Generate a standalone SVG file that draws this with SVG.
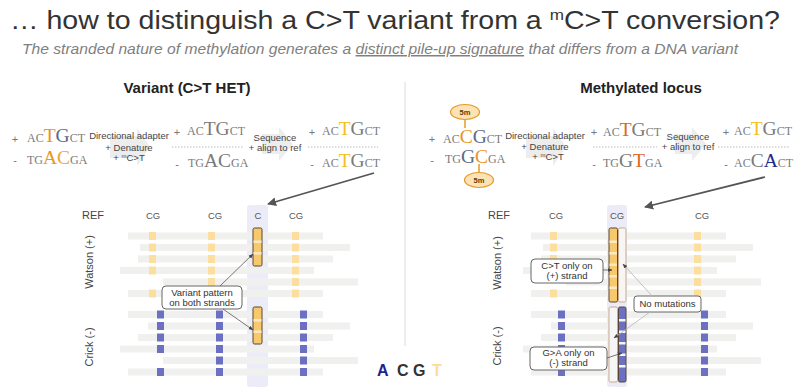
<svg xmlns="http://www.w3.org/2000/svg" width="800" height="392" viewBox="0 0 800 392">
<style>
text{font-family:"Liberation Sans",Arial,sans-serif}
.title{font-size:25px;fill:#333}
.sub{font-size:15px;font-style:italic;fill:#808080}
.h{font-size:15px;font-weight:bold;fill:#222;text-anchor:middle}
.seq{font-family:"Liberation Serif","Times New Roman",serif;fill:#7b7b7b}
.s{font-size:12px}
.b{font-size:19.5px}
.pm{font-size:11px;fill:#777;text-anchor:middle}
.step{font-size:9.5px;fill:#444;text-anchor:middle}
.lbl{font-size:11px;fill:#444}
.col{font-size:9.5px;fill:#555;text-anchor:middle}
.rd{fill:#f0f0ef}
.y{fill:#fcdf9f}
.bl{fill:#6b70c2}
.call{fill:#fff;stroke:#666;stroke-width:1}
.ct{font-size:9.5px;fill:#333;text-anchor:middle}
.dash{stroke:#bbb;stroke-width:1;stroke-dasharray:1.5 1.5}
.chev{fill:#ededed}
.lav{fill:#ececf8}
.main{stroke:#555;stroke-width:1.8;fill:none}
.thin{stroke:#555;stroke-width:0.8;fill:none}
.light{stroke:#b5b5b5;stroke-width:0.8;fill:none}
.ell{fill:#fde2b4;stroke:#e39a2a;stroke-width:1.2}
</style>
<defs>
<marker id="big" viewBox="0 0 10 10" refX="9" refY="5" markerWidth="5" markerHeight="5" orient="auto"><path d="M0,0 L10,5 L0,10 z" fill="#555"/></marker>
<marker id="sm" viewBox="0 0 10 10" refX="9" refY="5" markerWidth="6" markerHeight="6" orient="auto"><path d="M0,1 L10,5 L0,9 z" fill="#444"/></marker>
<marker id="smg" viewBox="0 0 10 10" refX="9" refY="5" markerWidth="6" markerHeight="6" orient="auto"><path d="M0,1 L10,5 L0,9 z" fill="#444"/></marker>
</defs>

<g id="header">
<text class="title" x="10" y="29" textLength="770" lengthAdjust="spacingAndGlyphs">… how to distinguish a C&gt;T variant from a <tspan font-size="15" dy="-9">m</tspan><tspan dy="9">C&gt;T conversion?</tspan></text>
<text class="sub" x="22" y="54" textLength="716" lengthAdjust="spacingAndGlyphs">The stranded nature of methylation generates a <tspan text-decoration="underline">distinct pile-up signature</tspan> that differs from a DNA variant</text>
<line x1="405" y1="82" x2="405" y2="346" stroke="#dcdcdc" stroke-width="1"/>
<text class="h" x="187" y="93">Variant (C&gt;T HET)</text>
<text class="h" x="641" y="93">Methylated locus</text>
</g>

<g id="left-seq-1">
<text class="pm" x="15" y="143">+</text>
<text class="seq" x="27" y="142"><tspan class="s">AC</tspan><tspan class="b" fill="#e8961e">T</tspan><tspan class="b" fill="#5b6a8c">G</tspan><tspan class="s">CT</tspan></text>
<text class="pm" x="15" y="164">-</text>
<text class="seq" x="27" y="164"><tspan class="s">TG</tspan><tspan class="b" fill="#e8961e">A</tspan><tspan class="b" fill="#eba830">C</tspan><tspan class="s">GA</tspan></text>
</g>
<g id="left-step-1">
<polygon class="chev" points="110,136 137,136 137,128 150,147 137,166 137,158 110,158"/>
<text class="step" x="129" y="139">Directional adapter</text>
<text class="step" x="129" y="151">+ Denature</text>
<text class="step" x="129" y="161">+ <tspan font-size="6" dy="-3">m</tspan><tspan dy="3">C&gt;T</tspan></text>
</g>
<g id="left-seq-2">
<text class="pm" x="177" y="136">+</text>
<text class="seq" x="187" y="135"><tspan class="s">AC</tspan><tspan class="b">TG</tspan><tspan class="s">CT</tspan></text>
<line class="dash" x1="172" y1="147" x2="243" y2="147"/>
<text class="pm" x="177" y="168">-</text>
<text class="seq" x="188" y="167"><tspan class="s">TG</tspan><tspan class="b">AC</tspan><tspan class="s">GA</tspan></text>
</g>
<g id="left-step-2">
<polygon class="chev" points="262,134 279,134 279,127 293,144 279,161 279,154 262,154"/>
<text class="step" x="275" y="141">Sequence</text>
<text class="step" x="275" y="151">+ align to ref</text>
</g>
<g id="left-seq-3">
<text class="pm" x="312" y="136">+</text>
<text class="seq" x="322" y="135"><tspan class="s">AC</tspan><tspan class="b" fill="#f2c020">T</tspan><tspan class="b">G</tspan><tspan class="s">CT</tspan></text>
<line class="dash" x1="308" y1="147" x2="378" y2="147"/>
<text class="pm" x="312" y="168">-</text>
<text class="seq" x="322" y="167"><tspan class="s">AC</tspan><tspan class="b" fill="#f2c020">T</tspan><tspan class="b">G</tspan><tspan class="s">CT</tspan></text>
</g>

<g id="right-seq-1">
<ellipse class="ell" cx="465" cy="112" rx="14.5" ry="7.5"/>
<text x="465" y="115" font-size="7.5" font-weight="bold" fill="#5a3a10" text-anchor="middle">5m</text>
<line x1="465" y1="119.5" x2="465" y2="128" stroke="#e39a2a" stroke-width="1.5"/>
<text class="pm" x="432" y="143">+</text>
<text class="seq" x="443" y="143"><tspan class="s">AC</tspan><tspan class="b" fill="#e8961e">C</tspan><tspan class="b" fill="#5b6a8c">G</tspan><tspan class="s">CT</tspan></text>
<text class="pm" x="432" y="164">-</text>
<text class="seq" x="445" y="163"><tspan class="s">TG</tspan><tspan class="b" fill="#5b6a8c">G</tspan><tspan class="b" fill="#e8961e">C</tspan><tspan class="s">GA</tspan></text>
<line x1="479" y1="164" x2="479" y2="172.5" stroke="#e39a2a" stroke-width="1.5"/>
<ellipse class="ell" cx="479" cy="180" rx="14.5" ry="7.5"/>
<text x="479" y="183" font-size="7.5" font-weight="bold" fill="#5a3a10" text-anchor="middle">5m</text>
</g>
<g id="right-step-1">
<polygon class="chev" points="526,136 553,136 553,128 566,147 553,166 553,158 526,158"/>
<text class="step" x="545" y="139">Directional adapter</text>
<text class="step" x="545" y="150">+ Denature</text>
<text class="step" x="548" y="160" fill="#e0601e">+ <tspan font-size="6" dy="-3">m</tspan><tspan dy="3">C&gt;T</tspan></text>
</g>
<g id="right-seq-2">
<text class="pm" x="594" y="136">+</text>
<text class="seq" x="603" y="136"><tspan class="s">AC</tspan><tspan class="b" fill="#e0641e">T</tspan><tspan class="b">G</tspan><tspan class="s">CT</tspan></text>
<line class="dash" x1="593" y1="147" x2="657" y2="147"/>
<text class="pm" x="594" y="168">-</text>
<text class="seq" x="603" y="167"><tspan class="s">TG</tspan><tspan class="b">G</tspan><tspan class="b" fill="#e0641e">T</tspan><tspan class="s">GA</tspan></text>
</g>
<g id="right-step-2">
<polygon class="chev" points="675,134 692,134 692,127 706,144 692,161 692,154 675,154"/>
<text class="step" x="688" y="140">Sequence</text>
<text class="step" x="688" y="150">+ align to ref</text>
</g>
<g id="right-seq-3">
<text class="pm" x="726" y="136">+</text>
<text class="seq" x="734" y="135"><tspan class="s">AC</tspan><tspan class="b" fill="#f2c020">T</tspan><tspan class="b">G</tspan><tspan class="s">CT</tspan></text>
<line class="dash" x1="718" y1="147" x2="790" y2="147"/>
<text class="pm" x="726" y="168">-</text>
<text class="seq" x="734" y="167"><tspan class="s">AC</tspan><tspan class="b">C</tspan><tspan class="b" fill="#1c2a8c">A</tspan><tspan class="s">CT</tspan></text>
</g>

<g id="left-pileup">
<rect class="lav" x="247" y="205" width="21" height="182" rx="3"/>
<text class="lbl" x="82" y="219">REF</text>
<text class="col" x="153" y="219">CG</text>
<text class="col" x="215" y="219">CG</text>
<text class="col" x="258" y="219">C</text>
<text class="col" x="296" y="219">CG</text>
<text class="lbl" transform="translate(93,262) rotate(-90)" text-anchor="middle">Watson (+)</text>
<text class="lbl" transform="translate(93,347) rotate(-90)" text-anchor="middle">Crick (-)</text>
<rect class="rd" x="128" y="232.5" width="195" height="7"/>
<rect class="rd" x="140" y="244" width="210" height="7"/>
<rect class="rd" x="138" y="255.5" width="195" height="7"/>
<rect class="rd" x="120" y="267" width="194" height="7"/>
<rect class="rd" x="163" y="278.5" width="195" height="7"/>
<rect class="rd" x="128" y="290" width="195" height="7"/>
<rect class="rd" x="128" y="311" width="195" height="7"/>
<rect class="rd" x="148" y="322.5" width="202" height="7"/>
<rect class="rd" x="138" y="334" width="195" height="7"/>
<rect class="rd" x="120" y="345.5" width="194" height="7"/>
<rect class="rd" x="163" y="357" width="195" height="7"/>
<rect class="rd" x="128" y="368.5" width="195" height="7"/>
<g class="y">
<rect x="149" y="232" width="7" height="8"/><rect x="149" y="243.5" width="7" height="8"/><rect x="149" y="255" width="7" height="8"/><rect x="149" y="266.5" width="7" height="8"/><rect x="149" y="289.5" width="7" height="8"/>
<rect x="208" y="232" width="7" height="8"/><rect x="208" y="243.5" width="7" height="8"/><rect x="208" y="255" width="7" height="8"/><rect x="208" y="266.5" width="7" height="8"/><rect x="208" y="278" width="7" height="8"/><rect x="208" y="289.5" width="7" height="8"/>
<rect x="292" y="232" width="7" height="8"/><rect x="292" y="243.5" width="7" height="8"/><rect x="292" y="255" width="7" height="8"/><rect x="292" y="266.5" width="7" height="8"/><rect x="292" y="278" width="7" height="8"/><rect x="292" y="289.5" width="7" height="8"/>
</g>
<g class="bl">
<rect x="157" y="310.5" width="7" height="8"/><rect x="157" y="322" width="7" height="8"/><rect x="157" y="333.5" width="7" height="8"/><rect x="157" y="345" width="7" height="8"/><rect x="157" y="368" width="7" height="8"/>
<rect x="216" y="310.5" width="7" height="8"/><rect x="216" y="322" width="7" height="8"/><rect x="216" y="333.5" width="7" height="8"/><rect x="216" y="345" width="7" height="8"/><rect x="216" y="356.5" width="7" height="8"/><rect x="216" y="368" width="7" height="8"/>
<rect x="300" y="310.5" width="7" height="8"/><rect x="300" y="322" width="7" height="8"/><rect x="300" y="333.5" width="7" height="8"/><rect x="300" y="345" width="7" height="8"/><rect x="300" y="356.5" width="7" height="8"/><rect x="300" y="368" width="7" height="8"/>
</g>
<rect x="253" y="228" width="9" height="38" rx="1.5" fill="#f8c96c" stroke="#5a4630" stroke-width="1"/>
<rect x="253.5" y="240.5" width="8" height="2.5" fill="#fde9c0"/>
<rect x="253.5" y="252" width="8" height="2.5" fill="#fde9c0"/>
<rect x="253" y="307" width="9" height="37" rx="1.5" fill="#f8c96c" stroke="#5a4630" stroke-width="1"/>
<rect x="253.5" y="319" width="8" height="2.5" fill="#fde9c0"/>
<rect x="253.5" y="330.5" width="8" height="2.5" fill="#fde9c0"/>
</g>
<g id="left-callout">
<rect class="call" x="162" y="286" width="80" height="23" rx="4"/>
<text class="ct" x="202" y="296">Variant pattern</text>
<text class="ct" x="202" y="306">on both strands</text>
</g>

<g id="right-pileup">
<rect class="lav" x="607" y="205" width="20" height="182" rx="3"/>
<text class="lbl" x="488" y="219">REF</text>
<text class="col" x="556" y="219">CG</text>
<text class="col" x="617" y="219">CG</text>
<text class="col" x="702" y="219">CG</text>
<text class="lbl" transform="translate(501,263) rotate(-90)" text-anchor="middle">Watson (+)</text>
<text class="lbl" transform="translate(501,346) rotate(-90)" text-anchor="middle">Crick (-)</text>
<rect class="rd" x="531" y="232.5" width="195" height="7"/>
<rect class="rd" x="543" y="244" width="210" height="7"/>
<rect class="rd" x="541" y="255.5" width="195" height="7"/>
<rect class="rd" x="523" y="267" width="194" height="7"/>
<rect class="rd" x="566" y="278.5" width="195" height="7"/>
<rect class="rd" x="531" y="290" width="195" height="7"/>
<rect class="rd" x="531" y="311" width="195" height="7"/>
<rect class="rd" x="551" y="322.5" width="202" height="7"/>
<rect class="rd" x="541" y="334" width="195" height="7"/>
<rect class="rd" x="523" y="345.5" width="194" height="7"/>
<rect class="rd" x="566" y="357" width="195" height="7"/>
<rect class="rd" x="531" y="368.5" width="195" height="7"/>
<g class="y">
<rect x="550" y="232" width="7" height="8"/><rect x="550" y="243.5" width="7" height="8"/><rect x="550" y="255" width="7" height="8"/><rect x="550" y="266.5" width="7" height="8"/><rect x="550" y="289.5" width="7" height="8"/>
<rect x="694" y="232" width="7" height="8"/><rect x="694" y="243.5" width="7" height="8"/><rect x="694" y="255" width="7" height="8"/><rect x="694" y="266.5" width="7" height="8"/><rect x="694" y="278" width="7" height="8"/><rect x="694" y="289.5" width="7" height="8"/>
</g>
<g class="bl">
<rect x="558" y="310.5" width="7" height="8"/><rect x="558" y="322" width="7" height="8"/><rect x="558" y="333.5" width="7" height="8"/><rect x="558" y="345" width="7" height="8"/><rect x="558" y="368" width="7" height="8"/>
<rect x="701" y="310.5" width="7" height="8"/><rect x="701" y="322" width="7" height="8"/><rect x="701" y="333.5" width="7" height="8"/><rect x="701" y="345" width="7" height="8"/><rect x="701" y="356.5" width="7" height="8"/><rect x="701" y="368" width="7" height="8"/>
</g>
<rect x="609" y="228" width="8.5" height="74" rx="1.5" fill="#f8c96c" stroke="#5a4630" stroke-width="1"/>
<g fill="#fde9c0">
<rect x="609.5" y="240.5" width="7.5" height="2.5"/><rect x="609.5" y="252" width="7.5" height="2.5"/><rect x="609.5" y="263.5" width="7.5" height="2.5"/><rect x="609.5" y="275" width="7.5" height="2.5"/><rect x="609.5" y="286.5" width="7.5" height="2.5"/>
</g>
<rect x="618.5" y="228" width="7.5" height="74" rx="1.5" fill="#f7f6f6" stroke="#c9a98a" stroke-width="1"/>
<rect x="609" y="307" width="8.5" height="75" rx="1.5" fill="#f7f6f6" stroke="#c9a98a" stroke-width="1"/>
<rect x="618.5" y="307" width="7.5" height="75" rx="1.5" fill="#6b70c2" stroke="#5a4630" stroke-width="1"/>
<g fill="#f4f4fb">
<rect x="619" y="319" width="6.5" height="2.5"/><rect x="619" y="330.5" width="6.5" height="2.5"/><rect x="619" y="342" width="6.5" height="2.5"/><rect x="619" y="353.5" width="6.5" height="2.5"/><rect x="619" y="365" width="6.5" height="2.5"/>
</g>
</g>
<g id="right-callout-plus">
<rect class="call" x="531" y="259" width="72" height="24" rx="4"/>
<text class="ct" x="567" y="269">C&gt;T only on</text>
<text class="ct" x="567" y="279">(+) strand</text>
</g>
<g id="right-callout-minus">
<rect class="call" x="530" y="347" width="77" height="23" rx="4"/>
<text class="ct" x="568.5" y="356">G&gt;A only on</text>
<text class="ct" x="568.5" y="366">(-) strand</text>
</g>
<g id="right-callout-none">
<rect class="call" x="634" y="296" width="67" height="16" rx="3"/>
<text class="ct" x="667.5" y="307">No mutations</text>
</g>

<g id="legend">
<text x="377" y="376" font-size="16" font-weight="bold" fill="#1c2390">A</text>
<text x="397" y="376" font-size="16" font-weight="bold" fill="#333">C</text>
<text x="413" y="376" font-size="16" font-weight="bold" fill="#333">G</text>
<text x="432" y="376" font-size="16" font-weight="bold" fill="#fcdc9c">T</text>
</g>

<g id="connectors">
<line class="main" x1="374" y1="173" x2="268" y2="204" marker-end="url(#big)"/>
<line class="main" x1="765" y1="177" x2="645" y2="207" marker-end="url(#big)"/>
<line class="thin" x1="220" y1="286" x2="253" y2="254" marker-end="url(#sm)"/>
<line class="thin" x1="223" y1="309" x2="253" y2="330" marker-end="url(#sm)"/>
<line class="thin" x1="603" y1="270" x2="612" y2="270" marker-end="url(#sm)"/>
<line class="thin" x1="607" y1="358" x2="622" y2="353" marker-end="url(#sm)"/>
<line class="light" x1="652" y1="296" x2="623" y2="264" marker-end="url(#smg)"/>
<line class="light" x1="650" y1="312" x2="614" y2="338" marker-end="url(#smg)"/>
</g>
</svg>
